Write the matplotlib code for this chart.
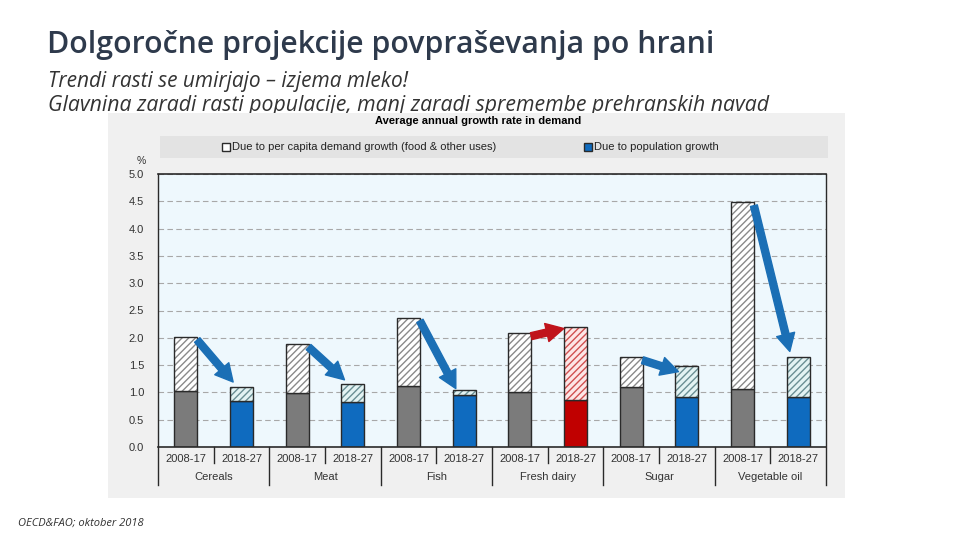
import numpy as np
import matplotlib.pyplot as plt
from matplotlib.patches import Rectangle

# data
categories = ['Cereals', 'Meat', 'Fish', 'Fresh dairy', 'Sugar', 'Vegetable oil']
periods = ['2008-17', '2018-27']
# total growth (%) and part due to population growth (%)
total_0817 = [2.02, 1.89, 2.37, 2.09, 1.65, 4.48]
pop_0817   = [1.03, 0.99, 1.12, 1.00, 1.09, 1.06]
total_1827 = [1.10, 1.15, 1.04, 2.20, 1.48, 1.64]
pop_1827   = [0.84, 0.82, 0.95, 0.86, 0.91, 0.91]
# where each trend arrow points, relative to the top of the 2018-27 bar
arrow_dy = [0.09, 0.08, 0.03, -0.03, -0.10, 0.11]
legend_labels = ['Due to per capita demand growth (food & other uses)',
                 'Due to population growth']
y_ticks = [0.0, 0.5, 1.0, 1.5, 2.0, 2.5, 3.0, 3.5, 4.0, 4.5, 5.0]

title = 'Dolgoročne projekcije povpraševanja po hrani'
sub1 = 'Trendi rasti se umirjajo – izjema mleko!'
sub2 = 'Glavnina zaradi rasti populacije, manj zaradi spremembe prehranskih navad'
chart_title = 'Average annual growth rate in demand'
source = 'OECD&FAO; oktober 2018'

GREY = '#7b7b7b'
BLUE = '#0f6bbf'
RED = '#c00000'
ARROW_BLUE = '#1b6fb5'
ARROW_RED = '#c0141c'
OUTLINE = '#2a2a2a'
FONT = ['Liberation Sans Narrow', 'Liberation Sans', 'DejaVu Sans']
SLIDE_FONT = ['Open Sans', 'DejaVu Sans']

plt.rcParams['hatch.linewidth'] = 1.0

fig = plt.figure(figsize=(9.6, 5.4), dpi=100)
fig.patch.set_facecolor('white')

W, H = 960.0, 540.0
def fx(px): return px / W
def fy(py): return 1 - py / H

# slide texts
fig.text(fx(47), fy(45), title, fontsize=21.8, color='#2e3a4c', fontweight='semibold',
         family=SLIDE_FONT, va='center', ha='left', zorder=1)
fig.text(fx(48), fy(81), sub1, fontsize=15, color='#333333', style='italic',
         family=SLIDE_FONT, va='center', ha='left', zorder=1)
fig.text(fx(48), fy(105), sub2, fontsize=15.3, color='#333333', style='italic',
         family=SLIDE_FONT, va='center', ha='left', zorder=1)
fig.text(fx(18), fy(523), source, fontsize=8, color='#333333', style='italic',
         family=SLIDE_FONT, va='center', ha='left')

# grey picture background (overlaps bottom of subtitle like the original)
fig.patches.append(Rectangle((fx(108), fy(498)), fx(845) - fx(108), fy(113) - fy(498),
                             transform=fig.transFigure, facecolor='#f0f0f0',
                             edgecolor='none', zorder=2))
fig.text(fx(478), fy(121), chart_title, fontsize=8, fontweight='bold',
         family=FONT, ha='center', va='center', zorder=3)

# legend box
fig.patches.append(Rectangle((fx(160), fy(158)), fx(828) - fx(160), fy(136) - fy(158),
                             transform=fig.transFigure, facecolor='#e3e3e3',
                             edgecolor='none', zorder=3))
for xm, lab, fc in [(226, legend_labels[0], 'white'), (588, legend_labels[1], BLUE)]:
    fig.patches.append(Rectangle((fx(xm - 4), fy(151)), fx(8), 8 / H,
                                 transform=fig.transFigure, facecolor=fc,
                                 edgecolor=OUTLINE, lw=1, zorder=4))
    fig.text(fx(xm + 6), fy(147), lab, fontsize=8, family=FONT, color='#222222',
             ha='left', va='center', zorder=4)

ax = fig.add_axes([fx(158), fy(447), fx(826) - fx(158), fy(174) - fy(447)], zorder=5)
ax.set_facecolor('#eef8fd')

n = len(categories)
bw = 0.41
for i in range(n):
    for j, (tot, pop) in enumerate([(total_0817[i], pop_0817[i]), (total_1827[i], pop_1827[i])]):
        x = 2 * i + j + 0.5
        if j == 0:
            solid, hfill, hcol = GREY, 'white', '#8a8a8a'
        elif categories[i] == 'Fresh dairy':
            solid, hfill, hcol = RED, '#fde6e6', '#d05050'
        else:
            solid, hfill, hcol = BLUE, '#e3f3f3', '#6a8f93'
        ax.bar(x, pop, bw, color=solid, edgecolor=OUTLINE, lw=1, zorder=3)
        ax.bar(x, tot - pop, bw, bottom=pop, color=hfill, edgecolor=hcol,
               hatch='/////', lw=0, zorder=3)
        ax.bar(x, tot - pop, bw, bottom=pop, fill=False, edgecolor=OUTLINE, lw=1, zorder=4)

    # trend arrows
    up = total_1827[i] > total_0817[i]
    col = ARROW_RED if up else ARROW_BLUE
    x0 = 2 * i + 0.5 + bw / 2
    x1 = 2 * i + (1.29 if up else 1.35)
    ax.annotate('', xy=(x1, total_1827[i] + arrow_dy[i]),
                xytext=(x0, total_0817[i] - 0.06),
                arrowprops=dict(arrowstyle='simple,head_length=0.9,head_width=0.95,tail_width=0.36',
                                color=col, mutation_scale=14, shrinkA=0, shrinkB=0),
                zorder=6)

ax.set_xlim(0, 2 * n)
ax.set_ylim(0, 5.0)
ax.set_yticks(y_ticks)
ax.set_yticklabels([f'{v:.1f}' for v in y_ticks], fontsize=8, family=FONT, color='#333333')
ax.tick_params(axis='y', length=0, pad=10)
ax.set_xticks([])
ax.grid(axis='y', color='#a8a8a8', linestyle=(0, (5, 3)), lw=0.8, zorder=1)
ax.set_axisbelow(True)
for sp in ['left', 'bottom', 'right']:
    ax.spines[sp].set_visible(False)
ax.spines['top'].set_color(OUTLINE)
ax.spines['top'].set_linewidth(1.2)

# x axis lines and labels drawn below the plot
ax.plot([0, 2 * n], [0, 0], color=OUTLINE, lw=1.2, clip_on=False, zorder=6)
for k in range(n + 1):
    ax.plot([2 * k, 2 * k], [5.0 if k in (0, n) else 0, -0.70], color=OUTLINE, lw=1,
            clip_on=False, zorder=6)
for i, cat in enumerate(categories):
    ax.plot([2 * i + 1, 2 * i + 1], [0, -0.29], color=OUTLINE, lw=1, clip_on=False)
    for j, per in enumerate(periods):
        ax.text(2 * i + j + 0.5, -0.22, per, ha='center', va='center', fontsize=8,
                family=FONT, color='#333333')
    ax.text(2 * i + 1, -0.55, cat, ha='center', va='center', fontsize=8,
            family=FONT, color='#333333')
ax.text(-0.3, 5.15, '%', ha='center', va='bottom', fontsize=7.5, family=FONT,
        color='#333333', clip_on=False)

fig.savefig('out.png', dpi=100, facecolor='white')
